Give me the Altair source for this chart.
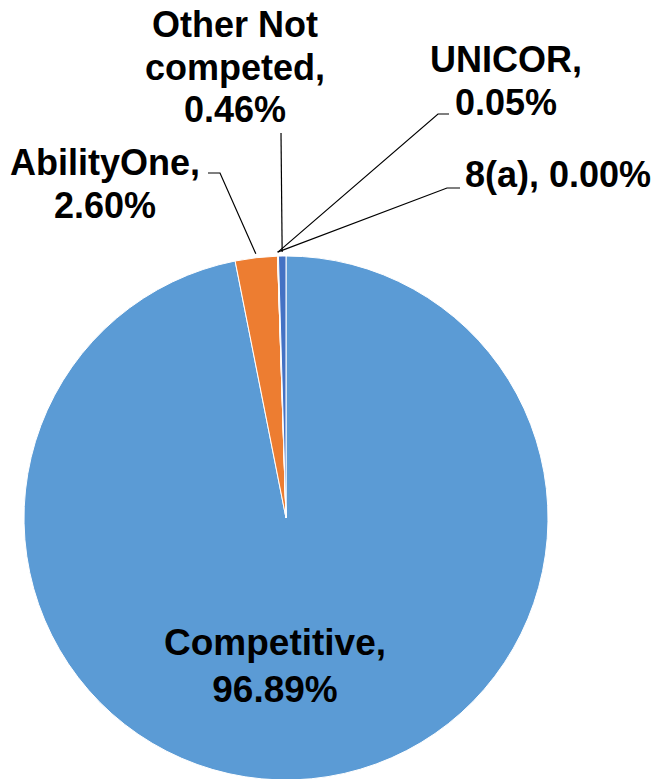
import math
import altair as alt
import pandas as pd

# ---- data ----
categories = ["Competitive", "AbilityOne", "8(a)", "UNICOR", "Other Not competed"]
shares = [96.89, 2.60, 0.00, 0.05, 0.46]
label_text = ["Competitive,\n96.89%", "AbilityOne,\n2.60%", "8(a), 0.00%",
              "UNICOR,\n0.05%", "Other Not\ncompeted,\n0.46%"]
colors = ["#5B9BD5", "#ED7D31", "#A5A5A5", "#FFC000", "#4472C4"]

# ---- layout (pixels in chart coords) ----
W, H = 645, 771
CX, CY, R = 278, 510, 262
label_pos = {
    "Competitive": (267, 647, 37),
    "AbilityOne": (97, 167, 36),
    "8(a)": (550, 179, 36),
    "UNICOR": (498, 64, 36),
    "Other Not competed": (227, 29, 36),
}
# elbow points of leader lines (label end first)
leader_elbows = {
    "AbilityOne": [(200, 165), (212, 165)],
    "8(a)": [(452, 180), (439, 180)],
    "UNICOR": [(441, 106), (430, 106)],
    "Other Not competed": [(273, 125)],
}

df = pd.DataFrame({"cat": categories, "share": shares, "idx": range(len(categories))})

# mid angles from data
total = sum(shares)
cum = 0
mid = {}
for c, s in zip(categories, shares):
    mid[c] = (cum + s / 2) / total * 2 * math.pi
    cum += s

rows = []
for c, pts in leader_elbows.items():
    a = mid[c]
    end = (CX + (R + 4) * math.sin(a), CY - (R + 4) * math.cos(a))
    for k, (px, py) in enumerate(pts + [end]):
        rows.append({"cat": c, "k": k, "px": px, "py": py})
lines_df = pd.DataFrame(rows)

lab_rows = []
for c, t in zip(categories, label_text):
    x, y, fs = label_pos[c]
    lab_rows.append({"cat": c, "text": t, "lx": x, "ly": y, "fs": fs})
lab_df = pd.DataFrame(lab_rows)

pie = alt.Chart(df).mark_arc(radius=R, stroke="white", strokeWidth=1).encode(
    theta=alt.Theta("share:Q", stack=True),
    order=alt.Order("idx:Q"),
    color=alt.Color("cat:N", scale=alt.Scale(domain=categories, range=colors), legend=None),
    x=alt.value(CX),
    y=alt.value(CY),
)

leaders = alt.Chart(lines_df).mark_line(color="black", strokeWidth=1.2).encode(
    x=alt.X("px:Q", scale=None, axis=None),
    y=alt.Y("py:Q", scale=None, axis=None),
    detail="cat:N",
    order="k:Q",
)

top_labels = alt.Chart(lab_df[lab_df.cat != "Competitive"]).mark_text(
    font="Liberation Sans", fontWeight="bold", align="center", baseline="alphabetic",
    lineBreak="\n", lineHeight=42.5, color="black",
).encode(
    x=alt.X("lx:Q", scale=None, axis=None),
    y=alt.Y("ly:Q", scale=None, axis=None),
    size=alt.Size("fs:Q", scale=None, legend=None),
    text="text:N",
)

bottom_label = alt.Chart(lab_df[lab_df.cat == "Competitive"]).mark_text(
    font="Liberation Sans", fontWeight="bold", align="center", baseline="alphabetic",
    lineBreak="\n", lineHeight=47, color="black",
).encode(
    x=alt.X("lx:Q", scale=None, axis=None),
    y=alt.Y("ly:Q", scale=None, axis=None),
    size=alt.Size("fs:Q", scale=None, legend=None),
    text="text:N",
)

chart = alt.layer(pie, leaders, top_labels, bottom_label).properties(
    width=W, height=H, padding=0, autosize=alt.AutoSizeParams(type="none"),
).configure_view(stroke=None)

chart.save("out.html", embed_options={"renderer": "svg", "actions": False})
